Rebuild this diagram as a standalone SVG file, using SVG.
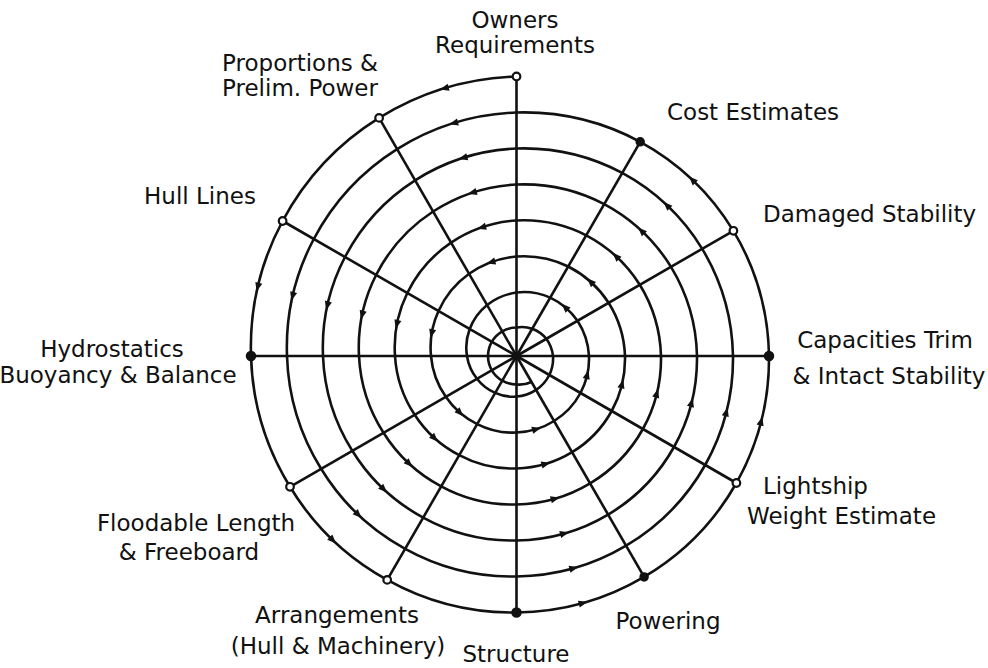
<svg xmlns="http://www.w3.org/2000/svg" xmlns:xlink="http://www.w3.org/1999/xlink" width="988" height="668" viewBox="0 0 988 668">
<defs>
<style>
.sp{fill:none;stroke:#111;stroke-width:2.6;stroke-linejoin:round}
.ray{stroke:#111;stroke-width:2.6}
.lbl{font-family:"DejaVu Sans","Liberation Sans",sans-serif;font-size:23px;fill:#111}
.dh{fill:#fff;stroke:#111;stroke-width:2.2}
.df{fill:#111;stroke:#111;stroke-width:1.5}
.ah{fill:#111}
</style>
<path id="ah" class="ah" d="M-5,0 L4,-3.6 L4,3.6 Z"/>
</defs>
<rect width="988" height="668" fill="#fff"/>
<g id="connectors">
<g id="rays">
<line class="ray" x1="516.5" y1="356" x2="516.5" y2="76.5"/>
<line class="ray" x1="516.5" y1="356" x2="379.1" y2="117.9"/>
<line class="ray" x1="516.5" y1="356" x2="282.6" y2="221.0"/>
<line class="ray" x1="516.5" y1="356" x2="251.0" y2="356"/>
<line class="ray" x1="516.5" y1="356" x2="290.0" y2="486.8"/>
<line class="ray" x1="516.5" y1="356" x2="387.2" y2="579.9"/>
<line class="ray" x1="516.5" y1="356" x2="516.5" y2="612.5"/>
<line class="ray" x1="516.5" y1="356" x2="644.1" y2="576.9"/>
<line class="ray" x1="516.5" y1="356" x2="736.4" y2="483.0"/>
<line class="ray" x1="516.5" y1="356" x2="769.0" y2="356"/>
<line class="ray" x1="516.5" y1="356" x2="733.4" y2="230.8"/>
<line class="ray" x1="516.5" y1="356" x2="640.2" y2="141.8"/>
</g>
<path id="spiral" class="sp" d="M516.5,76.5
A277.2,277.2 0 0 0 379.1,117.9
A272.5,272.5 0 0 0 282.6,221.0
A267.8,267.8 0 0 0 251.0,356
A263.6,263.6 0 0 0 290.0,486.8
A260.1,260.1 0 0 0 387.2,579.9
A257.6,257.6 0 0 0 516.5,612.5
A255.8,255.8 0 0 0 644.1,576.9
A254.5,254.5 0 0 0 736.4,483.0
A253.2,253.2 0 0 0 769.0,356
A251.5,251.5 0 0 0 733.4,230.8
A248.9,248.9 0 0 0 640.2,141.8
A245.5,245.5 0 0 0 516.5,112.5
A241.2,241.2 0 0 0 397.1,149.1
A236.5,236.5 0 0 0 313.8,239.0
A231.8,231.8 0 0 0 287.0,356
A227.6,227.6 0 0 0 321.1,468.8
A224.1,224.1 0 0 0 405.2,548.8
A221.6,221.6 0 0 0 516.5,576.5
A219.8,219.8 0 0 0 626.1,545.7
A218.5,218.5 0 0 0 705.2,465.0
A217.2,217.2 0 0 0 733.0,356
A215.5,215.5 0 0 0 702.2,248.8
A212.9,212.9 0 0 0 622.2,172.9
A209.5,209.5 0 0 0 516.5,148.5
A205.2,205.2 0 0 0 415.1,180.3
A200.5,200.5 0 0 0 345.0,257.0
A195.8,195.8 0 0 0 323.0,356
A191.6,191.6 0 0 0 352.3,450.8
A188.1,188.1 0 0 0 423.2,517.6
A185.6,185.6 0 0 0 516.5,540.5
A183.8,183.8 0 0 0 608.1,514.6
A182.5,182.5 0 0 0 674.0,447.0
A181.2,181.2 0 0 0 697.0,356
A179.5,179.5 0 0 0 671.0,266.8
A176.9,176.9 0 0 0 604.2,204.1
A173.5,173.5 0 0 0 516.5,184.5
A169.2,169.2 0 0 0 433.1,211.5
A164.5,164.5 0 0 0 376.1,275.0
A159.8,159.8 0 0 0 359.0,356
A155.6,155.6 0 0 0 383.5,432.8
A152.1,152.1 0 0 0 441.2,486.4
A149.6,149.6 0 0 0 516.5,504.5
A147.8,147.8 0 0 0 590.1,483.4
A146.5,146.5 0 0 0 642.9,429.0
A145.2,145.2 0 0 0 661.0,356
A143.5,143.5 0 0 0 639.8,284.8
A140.9,140.9 0 0 0 586.2,235.3
A137.5,137.5 0 0 0 516.5,220.5
A133.2,133.2 0 0 0 451.1,242.6
A128.5,128.5 0 0 0 407.3,293.0
A123.8,123.8 0 0 0 395.0,356
A119.6,119.6 0 0 0 414.7,414.8
A116.1,116.1 0 0 0 459.2,455.2
A113.6,113.6 0 0 0 516.5,468.5
A111.8,111.8 0 0 0 572.1,452.2
A110.5,110.5 0 0 0 611.7,411.0
A109.2,109.2 0 0 0 625.0,356
A107.5,107.5 0 0 0 608.6,302.8
A104.9,104.9 0 0 0 568.2,266.5
A101.5,101.5 0 0 0 516.5,256.5
A97.2,97.2 0 0 0 469.1,273.8
A92.5,92.5 0 0 0 438.5,311.0
A87.8,87.8 0 0 0 431.0,356
A83.6,83.6 0 0 0 445.8,396.8
A80.1,80.1 0 0 0 477.2,424.1
A77.6,77.6 0 0 0 516.5,432.5
A75.8,75.8 0 0 0 554.1,421.0
A74.5,74.5 0 0 0 580.5,393.0
A73.2,73.2 0 0 0 589.0,356
A71.5,71.5 0 0 0 577.5,320.8
A68.9,68.9 0 0 0 550.2,297.6
A65.5,65.5 0 0 0 516.5,292.5
A61.2,61.2 0 0 0 487.1,305.0
A56.5,56.5 0 0 0 469.7,329.0
A51.8,51.8 0 0 0 467.0,356
A47.6,47.6 0 0 0 477.0,378.8
A44.1,44.1 0 0 0 495.2,392.9
A41.6,41.6 0 0 0 516.5,396.5
A39.8,39.8 0 0 0 536.1,389.9
A38.5,38.5 0 0 0 549.3,375.0
A37.2,37.2 0 0 0 553.0,356
A35.5,35.5 0 0 0 546.3,338.8
A32.9,32.9 0 0 0 532.2,328.8
A30,30 0 0 0 516.5,327.5
A28.5,28.5 0 0 0 502.3,331.3
A28.5,28.5 0 0 0 491.8,341.8
A28.5,28.5 0 0 0 488.0,356
A28.5,28.5 0 0 0 491.8,370.3
A28.5,28.5 0 0 0 502.3,380.7
A28.5,28.5 0 0 0 516.5,384.5
A29.5,29.5 0 0 0 531.5,382.0"/>
<g id="arrows">
<g transform="rotate(-15 516.5 356)"><use xlink:href="#ah" x="516.5" y="78.8"/><use xlink:href="#ah" x="516.5" y="114.8"/><use xlink:href="#ah" x="516.5" y="150.8"/><use xlink:href="#ah" x="516.5" y="186.8"/><use xlink:href="#ah" x="516.5" y="222.8"/><use xlink:href="#ah" x="516.5" y="258.8"/></g>
<g transform="rotate(-75 516.5 356)"><use xlink:href="#ah" x="516.5" y="88.2"/><use xlink:href="#ah" x="516.5" y="124.2"/><use xlink:href="#ah" x="516.5" y="160.2"/><use xlink:href="#ah" x="516.5" y="196.2"/><use xlink:href="#ah" x="516.5" y="232.2"/><use xlink:href="#ah" x="516.5" y="268.2"/></g>
<g transform="rotate(-135 516.5 356)"><use xlink:href="#ah" x="516.5" y="95.9"/><use xlink:href="#ah" x="516.5" y="131.9"/><use xlink:href="#ah" x="516.5" y="167.9"/><use xlink:href="#ah" x="516.5" y="203.9"/><use xlink:href="#ah" x="516.5" y="239.9"/><use xlink:href="#ah" x="516.5" y="275.9"/></g>
<g transform="rotate(-195 516.5 356)"><use xlink:href="#ah" x="516.5" y="100.2"/><use xlink:href="#ah" x="516.5" y="136.2"/><use xlink:href="#ah" x="516.5" y="172.2"/><use xlink:href="#ah" x="516.5" y="208.2"/><use xlink:href="#ah" x="516.5" y="244.2"/><use xlink:href="#ah" x="516.5" y="280.2"/></g>
<g transform="rotate(-255 516.5 356)"><use xlink:href="#ah" x="516.5" y="102.8"/><use xlink:href="#ah" x="516.5" y="138.8"/><use xlink:href="#ah" x="516.5" y="174.8"/><use xlink:href="#ah" x="516.5" y="210.8"/><use xlink:href="#ah" x="516.5" y="246.8"/><use xlink:href="#ah" x="516.5" y="282.8"/></g>
<g transform="rotate(-315 516.5 356)"><use xlink:href="#ah" x="516.5" y="107.1"/><use xlink:href="#ah" x="516.5" y="143.1"/><use xlink:href="#ah" x="516.5" y="179.1"/><use xlink:href="#ah" x="516.5" y="215.1"/><use xlink:href="#ah" x="516.5" y="251.1"/><use xlink:href="#ah" x="516.5" y="287.1"/></g>
</g>
</g>
<g id="owners"><circle class="dh" cx="516.5" cy="76.5" r="3.8"/><text class="lbl" x="515" y="28" text-anchor="middle">Owners</text><text class="lbl" x="515" y="53" text-anchor="middle">Requirements</text></g>
<g id="proportions"><circle class="dh" cx="379.1" cy="117.9" r="3.8"/><text class="lbl" x="300" y="71" text-anchor="middle">Proportions &amp;</text><text class="lbl" x="300" y="96" text-anchor="middle">Prelim. Power</text></g>
<g id="hull-lines"><circle class="dh" cx="282.6" cy="221.0" r="3.8"/><text class="lbl" x="200" y="204" text-anchor="middle">Hull Lines</text></g>
<g id="hydrostatics"><circle class="df" cx="251.0" cy="356" r="4.5"/><text class="lbl" x="112" y="357" text-anchor="middle">Hydrostatics</text><text class="lbl" x="118" y="383" text-anchor="middle">Buoyancy &amp; Balance</text></g>
<g id="floodable"><circle class="dh" cx="290.0" cy="486.8" r="3.8"/><text class="lbl" x="196" y="531" text-anchor="middle">Floodable Length</text><text class="lbl" x="189" y="560" text-anchor="middle">&amp; Freeboard</text></g>
<g id="arrangements"><circle class="dh" cx="387.2" cy="579.9" r="3.8"/><text class="lbl" x="337" y="623" text-anchor="middle">Arrangements</text><text class="lbl" x="338" y="654" text-anchor="middle">(Hull &amp; Machinery)</text></g>
<g id="structure"><circle class="df" cx="516.5" cy="612.5" r="4.5"/><text class="lbl" x="516" y="662" text-anchor="middle">Structure</text></g>
<g id="powering"><circle class="df" cx="644.1" cy="576.9" r="4"/><text class="lbl" x="668" y="629" text-anchor="middle">Powering</text></g>
<g id="lightship"><circle class="dh" cx="736.4" cy="483.0" r="3.8"/><text class="lbl" x="763" y="494">Lightship</text><text class="lbl" x="747" y="524">Weight Estimate</text></g>
<g id="capacities"><circle class="df" cx="769.0" cy="356" r="4.5"/><text class="lbl" x="885" y="348" text-anchor="middle">Capacities Trim</text><text class="lbl" x="889" y="384" text-anchor="middle">&amp; Intact Stability</text></g>
<g id="damaged"><circle class="dh" cx="733.4" cy="230.8" r="3.8"/><text class="lbl" x="763" y="222">Damaged Stability</text></g>
<g id="cost"><circle class="df" cx="640.2" cy="141.8" r="4"/><text class="lbl" x="667" y="120">Cost Estimates</text></g>
</svg>
